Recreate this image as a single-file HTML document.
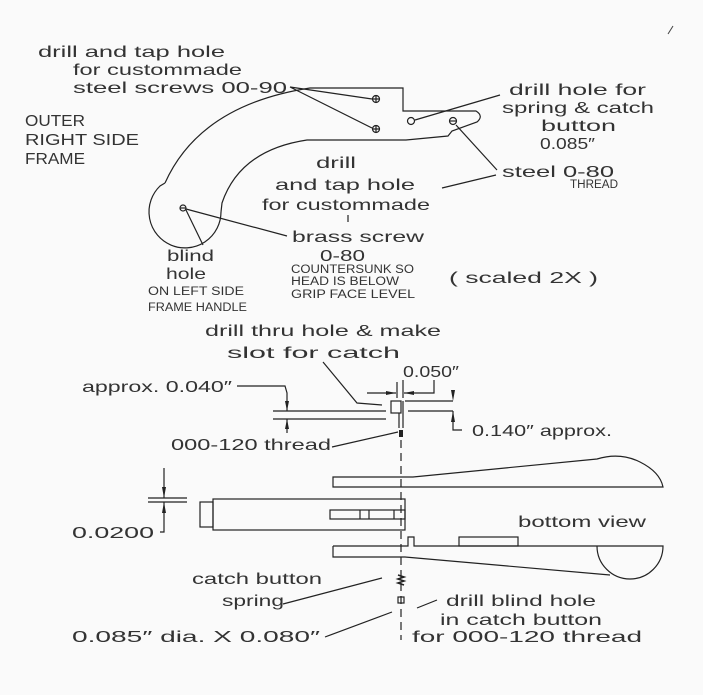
<!DOCTYPE html>
<html><head><meta charset="utf-8"><style>
html,body{margin:0;padding:0;background:#fafafa;}
svg{display:block;}
text{font-family:"Liberation Sans",sans-serif;fill:#333;}
.t{font-size:16px;}
.s{font-size:11.5px;}
</style></head><body>
<svg width="703" height="695" viewBox="0 0 703 695" xmlns="http://www.w3.org/2000/svg">
<rect width="703" height="695" fill="#fafafa"/>
<g fill="none" stroke="#222" stroke-width="1.2">
<path d="M165,183 Q200,105 310,88 L403,88 L403,111 L476,111 Q484,116 477,122 L452,131 L448,136 L406,140 L307,140 Q240,150 222,203 L221,212"/>
<path d="M165,183 L160,186 A36,36 0 1 0 221,212"/>
<circle cx="376" cy="99" r="3.5"/><path d="M372.5,99h7M376,95.5v7"/>
<circle cx="376" cy="129" r="3.5"/><path d="M372.5,129h7M376,125.5v7"/>
<circle cx="411" cy="121" r="3.5"/>
<circle cx="453" cy="121" r="3.5"/><path d="M449.5,121h7"/>
<circle cx="183" cy="208" r="3"/><path d="M180,208h6"/>
<path d="M290,87 L372,99 M290,87 L372,128 M415,120 L500,95 M456,125 L497,170 M442,188 L496,175 M186,209 L287,236 M186,210 L203,245 M348,215 L348,222"/>
<path d="M273,411 H386 M273,419 H386"/>
<path d="M237,386 H285 L287,393 V411 M287,419 V433"/>
<rect x="391" y="401" width="10" height="12"/>
<path d="M399,413 V428 M403,401 V428"/>
<path d="M323,362 L357,403 L382,405"/>
<path d="M397,382 V398 M403,380 V398 M367,393 H396 M404,393 H434 V380"/>
<path d="M405,401 H453 M408,411 H453 M453,411 V425 M453,425 V430 H462"/>
<path d="M332,447 L398,432"/>
<path d="M401,440 V640" stroke-dasharray="8,5"/>
<path d="M333,477 H413 L597,459 Q620,452 640,462 Q660,472 663,487 H333 Z"/>
<rect x="213" y="499" width="192" height="31"/>
<rect x="200" y="502" width="13" height="25"/>
<rect x="330" y="510" width="75" height="9"/>
<path d="M360,510 V519 M369,510 V519 M394,510 V519"/>
<path d="M333,546 H408 V537 H414 V546 H663 A33,33 0 0 1 597,546"/>
<path d="M333,546 V557 H405 L610,575"/>
<rect x="459" y="537" width="59" height="9"/>
<path d="M148,498 H187 M148,502 H187 M164,468 V498 M164,502 V532 H160"/>
<path d="M283,604 L382,578 M325,637 L392,612 M417,608 L437,600"/>
<rect x="398" y="597" width="6" height="6"/>
</g>
<g fill="#222" stroke="none">
<path d="M285,401 l4,0 l-2,10z M285,429 l4,0 l-2,-10z"/>
<path d="M396,393 l-10,-2 l0,4z M404,393 l10,-2 l0,4z"/>
<path d="M451,390 l4,0 l-2,11z M451,422 l4,0 l-2,-11z"/>
<path d="M162,487 l4,0 l-2,11z M162,513 l4,0 l-2,-11z"/>
<rect x="399" y="430" width="4" height="7"/>
</g>
<path d="M398,575 l6,2 l-6,2 l6,2 l-6,2 l6,2" fill="none" stroke="#222" stroke-width="1.6"/>
<path d="M668,34 l5,-8" stroke="#444" stroke-width="1"/>
<g>
<text class="t" lengthAdjust="spacingAndGlyphs" x="38" y="57" textLength="187">drill and tap hole</text>
<text class="t" lengthAdjust="spacingAndGlyphs" x="73" y="75" textLength="169">for custommade</text>
<text class="t" lengthAdjust="spacingAndGlyphs" x="73" y="93" textLength="214">steel screws  00-90</text>
<text class="t" lengthAdjust="spacingAndGlyphs" x="25" y="126" textLength="60">OUTER</text>
<text class="t" lengthAdjust="spacingAndGlyphs" x="25" y="145" textLength="114">RIGHT SIDE</text>
<text class="t" lengthAdjust="spacingAndGlyphs" x="25" y="164" textLength="60">FRAME</text>
<text class="t" lengthAdjust="spacingAndGlyphs" x="509" y="95" textLength="137">drill hole for</text>
<text class="t" lengthAdjust="spacingAndGlyphs" x="502" y="113" textLength="152">spring &amp; catch</text>
<text class="t" lengthAdjust="spacingAndGlyphs" x="541" y="131" textLength="75">button</text>
<text class="t" lengthAdjust="spacingAndGlyphs" x="540" y="149" textLength="55">0.085″</text>
<text class="t" lengthAdjust="spacingAndGlyphs" x="502" y="177" textLength="112">steel 0-80</text>
<text class="s" lengthAdjust="spacingAndGlyphs" x="570" y="188" textLength="48">THREAD</text>
<text class="t" lengthAdjust="spacingAndGlyphs" x="316" y="168" textLength="40">drill</text>
<text class="t" lengthAdjust="spacingAndGlyphs" x="275" y="190" textLength="140">and tap hole</text>
<text class="t" lengthAdjust="spacingAndGlyphs" x="262" y="210" textLength="168">for custommade</text>
<text class="t" lengthAdjust="spacingAndGlyphs" x="292" y="242" textLength="132">brass screw</text>
<text class="t" lengthAdjust="spacingAndGlyphs" x="320" y="261" textLength="45">0-80</text>
<text class="s" lengthAdjust="spacingAndGlyphs" x="291" y="273" textLength="123">COUNTERSUNK  SO</text>
<text class="s" lengthAdjust="spacingAndGlyphs" x="291" y="285" textLength="108">HEAD IS BELOW</text>
<text class="s" lengthAdjust="spacingAndGlyphs" x="291" y="298" textLength="124">GRIP FACE LEVEL</text>
<text class="t" lengthAdjust="spacingAndGlyphs" x="449" y="283" textLength="149">( scaled 2X )</text>
<text class="t" lengthAdjust="spacingAndGlyphs" x="167" y="261" textLength="47">blind</text>
<text class="t" lengthAdjust="spacingAndGlyphs" x="166" y="279" textLength="40">hole</text>
<text class="s" lengthAdjust="spacingAndGlyphs" x="148" y="295" textLength="96">ON LEFT SIDE</text>
<text class="s" lengthAdjust="spacingAndGlyphs" x="148" y="311" textLength="99">FRAME HANDLE</text>
<text class="t" lengthAdjust="spacingAndGlyphs" x="205" y="336" textLength="236">drill thru hole &amp; make</text>
<text class="t" lengthAdjust="spacingAndGlyphs" x="227" y="358" textLength="173">slot  for catch</text>
<text class="t" lengthAdjust="spacingAndGlyphs" x="403" y="377" textLength="56">0.050″</text>
<text class="t" lengthAdjust="spacingAndGlyphs" x="82" y="392" textLength="150">approx. 0.040″</text>
<text class="t" lengthAdjust="spacingAndGlyphs" x="472" y="436" textLength="140">0.140″ approx.</text>
<text class="t" lengthAdjust="spacingAndGlyphs" x="171" y="450" textLength="160">000-120  thread</text>
<text class="t" lengthAdjust="spacingAndGlyphs" x="518" y="527" textLength="128">bottom  view</text>
<text class="t" lengthAdjust="spacingAndGlyphs" x="72" y="538" textLength="82">0.0200</text>
<text class="t" lengthAdjust="spacingAndGlyphs" x="192" y="584" textLength="130">catch button</text>
<text class="t" lengthAdjust="spacingAndGlyphs" x="222" y="606" textLength="62">spring</text>
<text class="t" lengthAdjust="spacingAndGlyphs" x="446" y="606" textLength="150">drill blind  hole</text>
<text class="t" lengthAdjust="spacingAndGlyphs" x="440" y="625" textLength="162">in catch button</text>
<text class="t" lengthAdjust="spacingAndGlyphs" x="72" y="642" textLength="248">0.085″ dia. X 0.080″</text>
<text class="t" lengthAdjust="spacingAndGlyphs" x="412" y="642" textLength="230">for  000-120  thread</text>
</g>
</svg>
</body></html>
